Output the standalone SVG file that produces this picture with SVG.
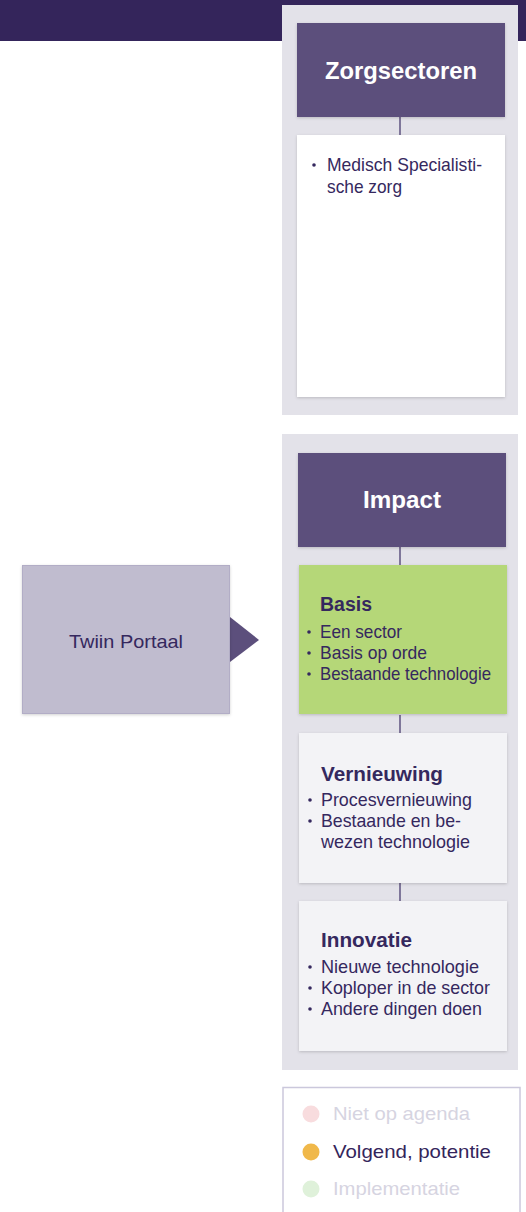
<svg xmlns="http://www.w3.org/2000/svg" width="526" height="1212" viewBox="0 0 526 1212">
<style>
.panel{fill:#e3e2e9}
.head{fill:#5c4f7c}
.htxt{font-family:"Liberation Sans",Arial,sans-serif;font-weight:bold;font-size:24px;fill:#ffffff;text-anchor:middle}
.body{font-family:"Liberation Sans",Arial,sans-serif;font-size:19px;fill:#35285e}
.bold{font-weight:bold;font-size:19.5px}
.bul{fill:#35285e}
.conn{stroke:#4a3d70;stroke-width:1.3;fill:none}
.leg{font-family:"Liberation Sans",Arial,sans-serif;font-size:18.5px}
</style>
<defs>
<filter id="sh" x="-10%" y="-10%" width="120%" height="120%">
<feDropShadow dx="0" dy="1" stdDeviation="1.5" flood-color="#000" flood-opacity="0.18"/>
</filter>
</defs>
<rect x="0" y="0" width="526" height="41" fill="#34255b"/>
<rect class="panel" x="282" y="5" width="236" height="410"/>
<rect class="panel" x="282" y="434" width="236" height="636"/>
<g id="connectors">
<line class="conn" x1="400" y1="117" x2="400" y2="135"/>
<line class="conn" x1="400" y1="547" x2="400" y2="565"/>
<line class="conn" x1="400" y1="715" x2="400" y2="733"/>
<line class="conn" x1="400" y1="883" x2="400" y2="901"/>
<polygon points="230,617 259,640 230,662" fill="#5c4f7c"/>
</g>
<g id="zorgsectoren">
<rect class="head" x="297" y="23" width="208" height="94" filter="url(#sh)"/>
<text class="htxt" x="401" y="79" textLength="152" lengthAdjust="spacingAndGlyphs">Zorgsectoren</text>
</g>
<g id="zorg-list">
<rect x="297" y="135" width="208" height="262" fill="#ffffff" filter="url(#sh)"/>
<circle class="bul" cx="314" cy="165" r="1.8"/>
<text class="body" x="327" y="171" textLength="155" lengthAdjust="spacingAndGlyphs">Medisch Specialisti-</text>
<text class="body" x="327" y="193" textLength="75" lengthAdjust="spacingAndGlyphs">sche zorg</text>
</g>
<g id="impact">
<rect class="head" x="298" y="453" width="208" height="94" filter="url(#sh)"/>
<text class="htxt" x="402" y="508" textLength="78" lengthAdjust="spacingAndGlyphs">Impact</text>
</g>
<g id="twiin-portaal">
<rect x="22.5" y="565.5" width="207" height="148" fill="#c0bccf" stroke="#b2adc6" stroke-width="1" filter="url(#sh)"/>
<text class="body" x="126" y="648" text-anchor="middle" textLength="114" lengthAdjust="spacingAndGlyphs">Twiin Portaal</text>
</g>
<g id="basis">
<rect x="299" y="565" width="208" height="149" fill="#b5d778" filter="url(#sh)"/>
<text class="body bold" x="320" y="611" textLength="52" lengthAdjust="spacingAndGlyphs">Basis</text>
<circle class="bul" cx="309" cy="632" r="1.8"/>
<text class="body" x="320" y="638" textLength="82" lengthAdjust="spacingAndGlyphs">Een sector</text>
<circle class="bul" cx="309" cy="653" r="1.8"/>
<text class="body" x="320" y="659" textLength="107" lengthAdjust="spacingAndGlyphs">Basis op orde</text>
<circle class="bul" cx="309" cy="674" r="1.8"/>
<text class="body" x="320" y="680" textLength="171" lengthAdjust="spacingAndGlyphs">Bestaande technologie</text>
</g>
<g id="vernieuwing">
<rect x="299" y="733" width="208" height="150" fill="#f3f3f6" filter="url(#sh)"/>
<text class="body bold" x="321" y="781" textLength="122" lengthAdjust="spacingAndGlyphs">Vernieuwing</text>
<circle class="bul" cx="310" cy="800" r="1.8"/>
<text class="body" x="321" y="806" textLength="151" lengthAdjust="spacingAndGlyphs">Procesvernieuwing</text>
<circle class="bul" cx="310" cy="821" r="1.8"/>
<text class="body" x="321" y="827" textLength="140" lengthAdjust="spacingAndGlyphs">Bestaande en be-</text>
<text class="body" x="321" y="848" textLength="149" lengthAdjust="spacingAndGlyphs">wezen technologie</text>
</g>
<g id="innovatie">
<rect x="299" y="901" width="208" height="150" fill="#f3f3f6" filter="url(#sh)"/>
<text class="body bold" x="321" y="947" textLength="91" lengthAdjust="spacingAndGlyphs">Innovatie</text>
<circle class="bul" cx="310" cy="967" r="1.8"/>
<text class="body" x="321" y="973" textLength="158" lengthAdjust="spacingAndGlyphs">Nieuwe technologie</text>
<circle class="bul" cx="310" cy="988" r="1.8"/>
<text class="body" x="321" y="994" textLength="169" lengthAdjust="spacingAndGlyphs">Koploper in de sector</text>
<circle class="bul" cx="310" cy="1009" r="1.8"/>
<text class="body" x="321" y="1015" textLength="161" lengthAdjust="spacingAndGlyphs">Andere dingen doen</text>
</g>
<g id="legend">
<rect x="283" y="1087.5" width="237" height="135" fill="#ffffff" stroke="#cbc8dc" stroke-width="1.5"/>
<circle cx="311" cy="1114" r="8.5" fill="#f8dcde"/>
<text class="leg" x="333" y="1120" fill="#d6d4e1" textLength="137" lengthAdjust="spacingAndGlyphs">Niet op agenda</text>
<circle cx="311" cy="1152" r="8.5" fill="#f0b84a"/>
<text class="leg" x="333" y="1158" fill="#34255b" textLength="158" lengthAdjust="spacingAndGlyphs">Volgend, potentie</text>
<circle cx="311" cy="1189" r="8.5" fill="#dff1da"/>
<text class="leg" x="333" y="1195" fill="#d6d4e1" textLength="127" lengthAdjust="spacingAndGlyphs">Implementatie</text>
</g>
</svg>
